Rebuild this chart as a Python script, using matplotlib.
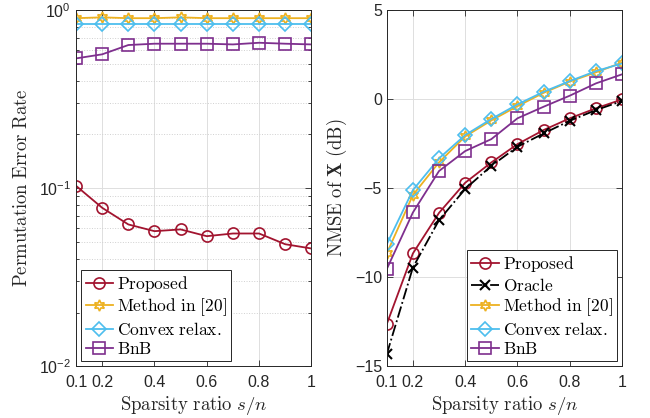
import matplotlib
matplotlib.use('Agg')
import matplotlib.pyplot as plt
import numpy as np

plt.rcParams['font.family'] = 'Liberation Sans'
plt.rcParams['mathtext.fontset'] = 'cm'

sparsity = [0.1, 0.2, 0.3, 0.4, 0.5, 0.6, 0.7, 0.8, 0.9, 1.0]

# Permutation error rate (left panel)
per_proposed = [0.103, 0.0775, 0.0625, 0.0573, 0.0586, 0.0537, 0.0556, 0.0556, 0.0484, 0.0458]
per_method20 = [0.90, 0.91, 0.90, 0.90, 0.91, 0.90, 0.90, 0.90, 0.90, 0.90]
per_convex = [0.83, 0.83, 0.83, 0.83, 0.83, 0.83, 0.83, 0.83, 0.83, 0.83]
per_bnb = [0.535, 0.564, 0.636, 0.647, 0.647, 0.647, 0.641, 0.655, 0.647, 0.641]

# NMSE of X in dB (right panel)
nmse_proposed = [-12.64, -8.67, -6.39, -4.70, -3.56, -2.53, -1.74, -1.08, -0.52, -0.02]
nmse_oracle = [-14.33, -9.46, -6.80, -5.05, -3.75, -2.68, -1.93, -1.22, -0.62, -0.11]
nmse_method20 = [-8.67, -5.39, -3.55, -2.10, -1.20, -0.40, 0.35, 0.98, 1.50, 2.05]
nmse_convex = [-8.16, -5.11, -3.33, -2.02, -1.12, -0.30, 0.41, 1.01, 1.57, 2.00]
nmse_bnb = [-9.55, -6.37, -4.04, -2.92, -2.25, -1.08, -0.43, 0.19, 0.88, 1.39]

C_RED = '#A2142F'
C_YEL = '#EDB120'
C_BLU = '#4DBEEE'
C_PUR = '#7E2F8E'
AX_COL = '#262626'

HEX = (6, 1, 0)  # six-pointed star, like MATLAB's hexagram

lab = {
    'prop': r'$\mathrm{Proposed}$',
    'orac': r'$\mathrm{Oracle}$',
    'm20': r'$\mathrm{Method\ in\ [20]}$',
    'cvx': r'$\mathrm{Convex\ relax.}$',
    'bnb': r'$\mathrm{BnB}$',
}

fig = plt.figure(figsize=(6.5, 4.18), dpi=100)
ax1 = fig.add_axes([0.117, 0.124, 0.362, 0.852])
ax2 = fig.add_axes([0.595, 0.124, 0.362, 0.852])

kw = dict(linewidth=1.3, markersize=8, fillstyle='none', markeredgewidth=1.2)
kw_d = dict(linewidth=1.3, markersize=7, fillstyle='none', markeredgewidth=1.2)


def style(ax):
    ax.tick_params(which='both', direction='in', top=True, right=True,
                   colors=AX_COL, labelsize=11.5, width=0.6)
    ax.tick_params(which='major', length=4)
    ax.tick_params(which='minor', length=2.5)
    ax.tick_params(axis='x', pad=6)
    for s in ax.spines.values():
        s.set_color(AX_COL)
        s.set_linewidth(0.7)
    ax.set_axisbelow(True)
    ax.set_xlim(0.1, 1.0)
    ax.set_xticks([0.1, 0.2, 0.4, 0.6, 0.8, 1.0])
    ax.set_xticklabels(['0.1', '0.2', '0.4', '0.6', '0.8', '1'])
    ax.set_xlabel(r'$\mathrm{Sparsity\ ratio}\ s/n$', fontsize=13.5, color=AX_COL, labelpad=3)


def legend(ax, loc):
    leg = ax.legend(loc=loc, fontsize=12.5, fancybox=False, edgecolor=AX_COL,
                    framealpha=1, handlelength=1.6, handletextpad=0.2,
                    borderpad=0.25, labelspacing=0.15, borderaxespad=0.3)
    leg.get_frame().set_linewidth(0.7)


# left panel
ax1.semilogy(sparsity, per_proposed, '-o', color=C_RED, label=lab['prop'], **kw)
ax1.semilogy(sparsity, per_method20, '-', marker=HEX, color=C_YEL, label=lab['m20'], **kw)
ax1.semilogy(sparsity, per_convex, '-D', color=C_BLU, label=lab['cvx'], **kw_d)
ax1.semilogy(sparsity, per_bnb, '-s', color=C_PUR, label=lab['bnb'], **kw)
ax1.set_ylim(1e-2, 1)
style(ax1)
ax1.grid(True, which='major', color='#dedede', linewidth=0.7)
ax1.grid(True, which='minor', axis='y', color='#d0d0d0', linestyle=':', linewidth=0.7)
ax1.set_ylabel(r'$\mathrm{Permutation\ Error\ Rate}$', fontsize=13.5, color=AX_COL, labelpad=6)
legend(ax1, 'lower left')

# right panel
ax2.plot(sparsity, nmse_proposed, '-o', color=C_RED, label=lab['prop'], **kw)
ax2.plot(sparsity, nmse_oracle, '-.x', color='black', label=lab['orac'],
         linewidth=1.3, markersize=7, markeredgewidth=1.5)
ax2.plot(sparsity, nmse_method20, '-', marker=HEX, color=C_YEL, label=lab['m20'], **kw)
ax2.plot(sparsity, nmse_convex, '-D', color=C_BLU, label=lab['cvx'], **kw_d)
ax2.plot(sparsity, nmse_bnb, '-s', color=C_PUR, label=lab['bnb'], **kw)
ax2.set_ylim(-15, 5)
ax2.set_yticks([-15, -10, -5, 0, 5])
style(ax2)
ax2.grid(True, which='major', color='#dedede', linewidth=0.7)
ax2.set_ylabel(r'$\mathrm{NMSE\ of\ }\mathbf{X}\ \mathrm{(dB)}$', fontsize=13.5, color=AX_COL, labelpad=4)
legend(ax2, 'lower right')

fig.savefig('out.png', dpi=100)
